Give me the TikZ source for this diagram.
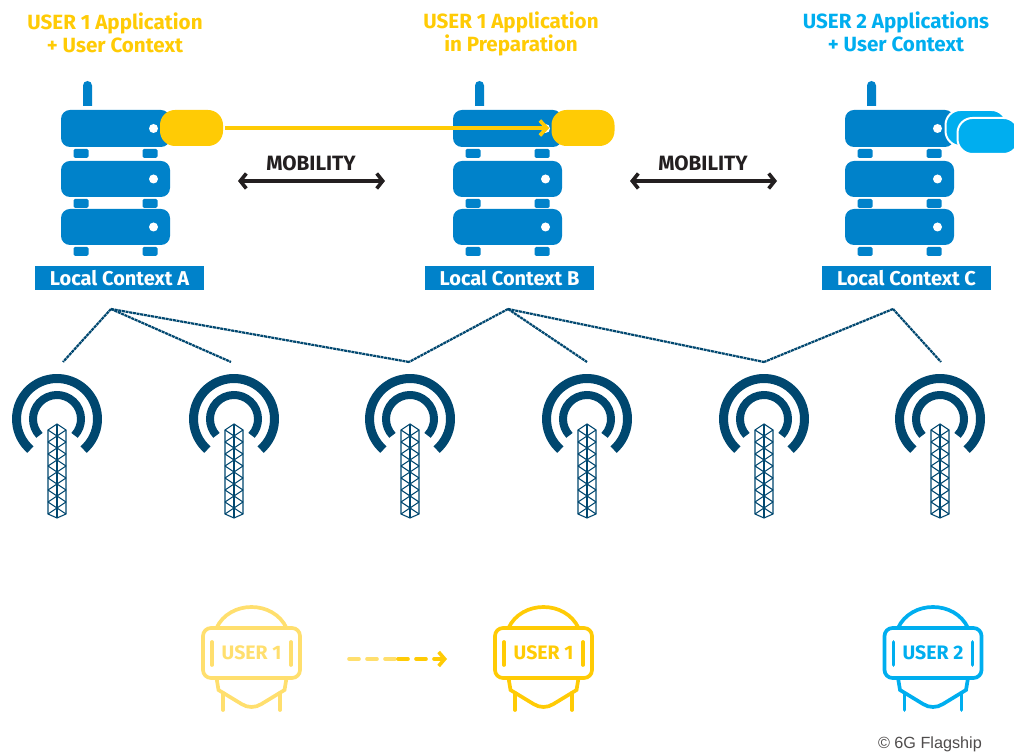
\documentclass[tikz,border=0pt]{standalone}
\usepackage{fontspec}
\setmainfont{Fira Sans}
\newfontfamily\creditfont{Liberation Sans}
\usetikzlibrary{arrows.meta}

\definecolor{serverblue}{HTML}{0082CA}
\definecolor{appblue}{HTML}{00AEEF}
\definecolor{appyellow}{HTML}{FFCB05}
\definecolor{fadeyellow}{HTML}{FFDF6E}
\definecolor{towernavy}{HTML}{00476F}
\definecolor{inkblack}{HTML}{231F20}

\tikzset{
  title/.style={font=\fontsize{20.6}{23}\selectfont\bfseries, align=center},
  contextbox/.style={fill=serverblue, text=white, minimum width=169pt, minimum height=24pt,
    inner sep=0pt, font=\fontsize{20}{22}\selectfont\bfseries},
  apppill/.style={minimum width=63pt, minimum height=36pt, inner sep=0pt, rounded corners=15pt},
  mobilitytext/.style={text=inkblack, font=\fontsize{20.7}{22}\selectfont\bfseries},
  mobilityarrow/.style={draw=inkblack, line width=3.6pt, {Straight Barb[length=6pt,width=15pt]}-{Straight Barb[length=6pt,width=15pt]}},
  backhaul/.style={draw=towernavy, line width=2.2pt, dash pattern=on 3pt off 0.7pt},
  pics/rack/.style={code={
    % antenna, then three boxes with their feet
    \fill[serverblue] (-32.5,4) -- (-32.5,24.5) arc (180:0:4.5) -- (-23.5,4) -- cycle;
    \foreach \y/\h in {-37/37, -87/36, -135/36} {
      \fill[serverblue, rounded corners=9pt] (-54.5,\y) rectangle (54.5,\y+\h);
      \fill[white] (38,\y+\h/2) circle (4.5);
      \fill[serverblue, rounded corners=1.5pt] (-42,\y-11) rectangle (-27,\y-2);
      \fill[serverblue, rounded corners=1.5pt] (27,\y-11) rectangle (42,\y-2);
    }
  }},
  pics/mast/.style={code={
    \draw[towernavy, line width=9pt] (-49:40.5) arc (-49:229:40.5);
    \draw[towernavy, line width=8pt] (-43:24) arc (-43:223:24);
    \begin{scope}[draw=towernavy, line width=1.1pt]
      \draw (-9,-11) -- (0,-5) -- (9,-11) -- (9,-95) -- (0,-99) -- (-9,-95) -- cycle;
      \draw (0,-5) -- (0,-99);
      \foreach \y in {-11,-23,-35,-47,-59,-71,-83} {
        \draw (-9,\y) -- (9,\y-12);
        \draw (9,\y) -- (-9,\y-12);
      }
    \end{scope}
  }},
  pics/headset/.style={code={
    \draw[line width=3.7pt, rounded corners=8pt] (-48.5,-25) rectangle (48.5,25);
    \draw[line width=3.7pt] (-35,25) .. controls (-22,53) and (22,53) .. (35,25);
    \draw[line width=3.7pt, line cap=round] (-39.5,11) -- (-39.5,-12);
    \draw[line width=3.7pt, line cap=round] (39.5,11) -- (39.5,-12);
    \draw[line width=3.7pt] (-35,-25) -- (-33,-37) -- (-10,-51) .. controls (-4,-55) and (4,-55) .. (10,-51) -- (33,-37) -- (35,-25);
    \draw[line width=3.7pt, line cap=round] (-28.5,-40) -- (-28.5,-57);
    \draw[line width=3.7pt, line cap=round] (28.5,-40) -- (28.5,-57);
    \node (-label) at (0,0) {\fontsize{19.5}{21}\selectfont\bfseries #1};
  }}
}

\begin{document}
\begin{tikzpicture}[x=1pt, y=1pt]
\useasboundingbox (0,0) rectangle (1014,752);

% titles
\node[title, text=appyellow] (titlea) at (115,719.5) {USER 1 Application\\+ User Context};
\node[title, text=appyellow] (titleb) at (511,718.5) {USER 1 Application\\in Preparation};
\node[title, text=appblue]   (titlec) at (896,720) {USER 2 Applications\\+ User Context};

% servers
\pic (racka) at (115.5,642) {rack};
\pic (rackb) at (507.5,642) {rack};
\pic (rackc) at (899.5,642) {rack};

\node[contextbox] (contexta) at (119.5,474) {Local Context A};
\node[contextbox] (contextb) at (509.5,474) {Local Context B};
\node[contextbox] (contextc) at (906.5,474) {Local Context C};

% applications
\node[apppill, fill=appyellow] (appa) at (191.5,624) {};
\node[apppill, fill=appyellow] (appb) at (583,624) {};
\node[apppill, fill=appblue, draw=white, line width=2pt, minimum width=61pt, minimum height=36pt] (appc) at (976,624) {};
\node[apppill, fill=appblue, draw=white, line width=2pt, minimum width=61pt, minimum height=36pt] (appd) at (988,616) {};

\draw[appyellow, line width=3.6pt, -{Straight Barb[length=7pt,width=15pt]}, shorten >=2pt, shorten <=2pt] (appa) -- (appb);

% mobility
\node[mobilitytext] (moba) at (311,589) {MOBILITY};
\node[mobilitytext] (mobb) at (703,589) {MOBILITY};
\coordinate (moba1) at (238,571);
\coordinate (moba2) at (385,571);
\coordinate (mobb1) at (630,571);
\coordinate (mobb2) at (777,571);
\draw[mobilityarrow] (moba1) -- (moba2);
\draw[mobilityarrow] (mobb1) -- (mobb2);

% towers
\foreach \name/\x in {1/57, 2/234, 3/410, 4/587, 5/764, 6/940} {
  \pic (mast\name) at (\x,333) {mast};
}

% backhaul
\coordinate (huba) at (111,443);
\coordinate (hubb) at (508,443);
\coordinate (hubc) at (893,443);
\coordinate (top1) at (63,390);
\coordinate (top2) at (231,390);
\coordinate (top3) at (409,390);
\coordinate (top4) at (587,390);
\coordinate (top5) at (764,390);
\coordinate (top6) at (941,390);
\foreach \a/\b in {huba/top1, huba/top2, huba/top3, hubb/top3, hubb/top4, hubb/top5, hubc/top5, hubc/top6} {
  \draw[backhaul] (\a) -- (\b);
}

% users
\pic[color=fadeyellow] (usera) at (251.5,99) {headset={USER 1}};
\pic[color=appyellow]  (userb) at (543.5,99) {headset={USER 1}};
\pic[color=appblue]    (userc) at (933,99) {headset={USER 2}};

\coordinate (walka) at (349,93);
\coordinate (walkb) at (398,93);
\coordinate (walkc) at (447,93);
\draw[fadeyellow, line width=3.6pt, line cap=round, dash pattern=on 10pt off 8pt] (walka) -- (walkb);
\draw[appyellow, line width=3.6pt, line cap=round, dash pattern=on 10pt off 8pt, -{Straight Barb[length=6pt,width=14pt]}] (walkb) -- (walkc);

\node[text=inkblack!80, font=\fontsize{16.2}{18}\selectfont\creditfont, anchor=east, inner sep=0pt] (credit) at (982,8) {© 6G Flagship};
\end{tikzpicture}
\end{document}
